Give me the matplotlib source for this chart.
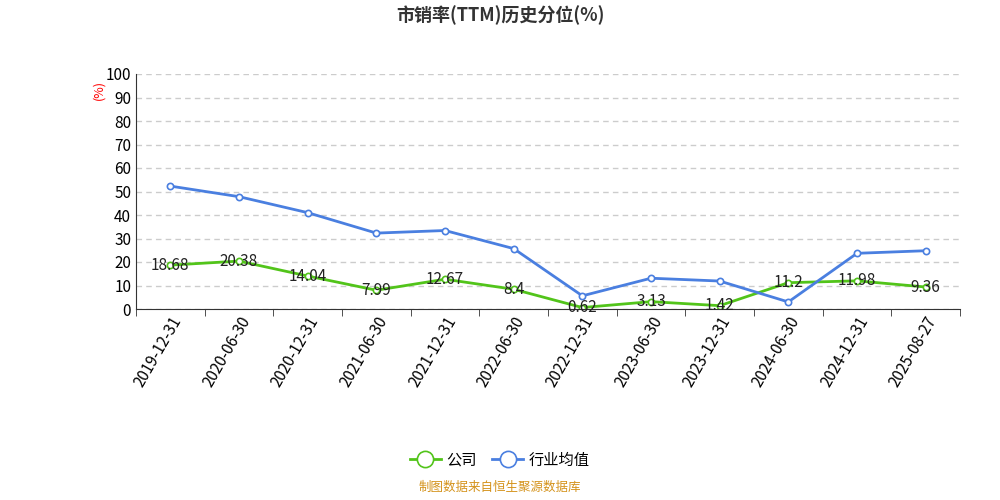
import matplotlib
matplotlib.use("Agg")
from matplotlib import pyplot as plt

plt.rcParams['font.family'] = ['Noto Sans CJK SC', 'DejaVu Sans']

dates = ["2019-12-31", "2020-06-30", "2020-12-31", "2021-06-30", "2021-12-31", "2022-06-30",
         "2022-12-31", "2023-06-30", "2023-12-31", "2024-06-30", "2024-12-31", "2025-08-27"]
company = [18.68, 20.38, 14.04, 7.99, 12.67, 8.4, 0.62, 3.13, 1.42, 11.2, 11.98, 9.36]
industry = [52.3, 47.8, 41.0, 32.3, 33.4, 25.7, 5.6, 13.1, 11.9, 3.0, 23.7, 24.8]

fig = plt.figure(figsize=(10, 5), dpi=100)
ax = fig.add_axes([0.136, 0.382, 0.824, 0.47])
x = list(range(len(dates)))
ax.plot(x, company, color="#52c41a", lw=2, marker="o", ms=4.5, mfc="white", mew=1.2, label="公司")
ax.plot(x, industry, color="#4a7fe0", lw=2, marker="o", ms=4.5, mfc="white", mew=1.2, label="行业均值")
for i, v in enumerate(company):
    ax.text(i, v, str(v), ha="center", va="center", fontsize=11, color="#222")

ax.set_xlim(-0.5, len(dates) - 0.5)
ax.set_ylim(0, 100)
ax.set_yticks(range(0, 101, 10))
ax.set_xticks(x)
ax.set_xticklabels(dates, rotation=60, ha="right", rotation_mode="anchor", fontsize=11)
ax.tick_params(axis="y", labelsize=11, length=0)
ax.set_xticks([i - 0.5 for i in range(len(dates) + 1)], minor=True)
ax.tick_params(axis="x", which="major", length=0)
ax.tick_params(axis="x", which="minor", length=5, color="#333")
ax.grid(axis="y", ls=(0, (4, 3)), color="#ccc", lw=1)
for s in ["top", "right"]:
    ax.spines[s].set_visible(False)
ax.spines["left"].set_color("#333")
ax.spines["bottom"].set_color("#333")
ax.text(-0.045, 0.93, "(%)", transform=ax.transAxes, rotation=90, color="red", fontsize=9, ha="center", va="center")

fig.text(0.5, 0.97, "市销率(TTM)历史分位(%)", ha="center", va="center", fontsize=13, fontweight="bold", color="#333")
fig.legend(loc="center", bbox_to_anchor=(0.5, 0.08), ncol=2, frameon=False, fontsize=11,
           handlelength=2.0, markerscale=2.6, columnspacing=1.0, handletextpad=0.4)
fig.text(0.5, 0.012, "制图数据来自恒生聚源数据库", ha="center", va="bottom", fontsize=9, color="#d4921a")
fig.savefig("out.png", dpi=100)
